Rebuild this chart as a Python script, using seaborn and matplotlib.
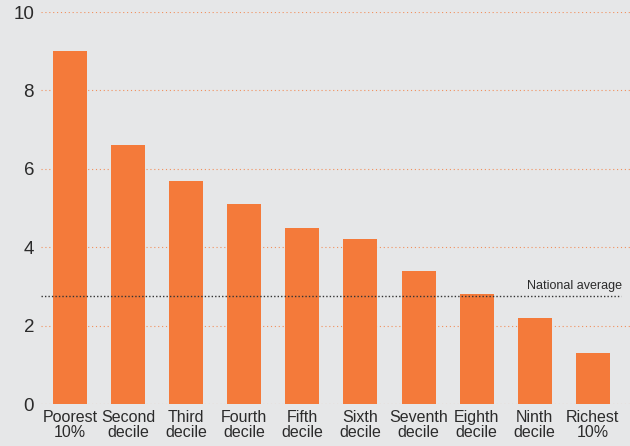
import matplotlib
matplotlib.use('Agg')
import matplotlib.pyplot as plt
import seaborn as sns
import pandas as pd

sns.set_theme(style='white')
plt.rcParams['font.family'] = ['Liberation Sans', 'DejaVu Sans']

deciles = ['Poorest\n10%', 'Second\ndecile', 'Third\ndecile', 'Fourth\ndecile', 'Fifth\ndecile',
           'Sixth\ndecile', 'Seventh\ndecile', 'Eighth\ndecile', 'Ninth\ndecile', 'Richest\n10%']
values = [9.0, 6.6, 5.7, 5.1, 4.5, 4.2, 3.4, 2.8, 2.2, 1.3]
national_average = 2.75
yticks = [0, 2, 4, 6, 8, 10]

bg = '#e6e7e8'
orange = '#f47a3a'
txt = '#2b2b2b'

df = pd.DataFrame({'decile': deciles, 'value': values})

fig = plt.figure(figsize=(6.3, 4.46), dpi=100, facecolor=bg)
ax = fig.add_axes([0.065, 0.094, 0.935, 0.879])
ax.set_facecolor(bg)

for y in yticks:
    ax.axhline(y, color=orange, lw=0.8, ls=(0, (1, 2.5)), alpha=0.8, zorder=0)

sns.barplot(data=df, x='decile', y='value', color=orange, saturation=1, width=0.585,
            linewidth=0, ax=ax, zorder=2)

ax.axhline(national_average, xmin=0, xmax=0.985, color='#333333', lw=1.0, ls=(0, (1, 1.5)), zorder=3)
ax.text(9.5, national_average + 0.12, 'National average', ha='right', va='bottom',
        fontsize=9, color=txt)

ax.set_xlim(-0.5, 9.64)
ax.set_ylim(0, 10)
ax.set_yticks(yticks)
ax.set_yticklabels([str(v) for v in yticks], fontsize=13.5, color=txt)
ax.tick_params(axis='x', labelsize=11.5, colors=txt, length=0, pad=4)
ax.tick_params(axis='y', length=0, pad=5)
for lbl in ax.get_xticklabels():
    lbl.set_linespacing(1.05)
ax.set_xlabel('')
ax.set_ylabel('')
for s in ax.spines.values():
    s.set_visible(False)

fig.savefig('out.png', dpi=100, facecolor=bg)
